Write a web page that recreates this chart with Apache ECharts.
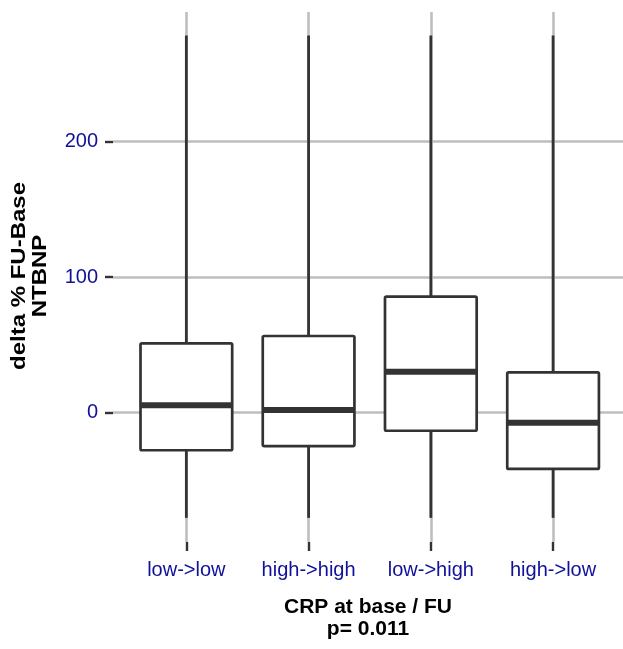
<!DOCTYPE html>
<html><head><meta charset="utf-8">
<script src="https://cdn.jsdelivr.net/npm/echarts@6/dist/echarts.min.js"></script>
<style>html,body{margin:0;padding:0;background:#fff}#c{width:623px;height:649px}</style>
</head><body><div id="c"></div>
<script>
const categories = ['low->low', 'high->high', 'low->high', 'high->low'];
const whiskerLow = [-77.6, -77.6, -77.6, -77.6];
const q1 = [-27.7, -24.6, -13.3, -41.5];
const median = [5.5, 2.0, 30.3, -7.4];
const q3 = [51.2, 56.6, 85.6, 29.8];
const whiskerHigh = [278.3, 278.3, 278.3, 278.3];
const yTicks = [0, 100, 200];
const xTicks = [0, 1, 2, 3];
const yTitle = 'delta % FU-Base\nNTBNP';
const xTitle = 'CRP at base / FU\np= 0.011';

const boxData = categories.map((c, i) => [i, whiskerLow[i], q1[i], median[i], q3[i], whiskerHigh[i]]);

const FONT = 'Liberation Sans, Arial, Helvetica, sans-serif';
const LABEL_COLOR = '#10109a';
const DARK = '#333333';
const GRID = '#bebebe';

function renderItem(params, api) {
  const x = api.value(0);
  const half = api.size([0.75, 0])[0] / 2;
  const pMin = api.coord([x, api.value(1)]);
  const pQ1 = api.coord([x, api.value(2)]);
  const pMed = api.coord([x, api.value(3)]);
  const pQ3 = api.coord([x, api.value(4)]);
  const pMax = api.coord([x, api.value(5)]);
  const st = { stroke: DARK, lineWidth: 2.8, lineCap: 'butt' };
  return {
    type: 'group',
    children: [
      { type: 'line', shape: { x1: pQ3[0], y1: pQ3[1], x2: pMax[0], y2: pMax[1] }, style: st },
      { type: 'line', shape: { x1: pMin[0], y1: pMin[1], x2: pQ1[0], y2: pQ1[1] }, style: st },
      { type: 'rect', shape: { x: pQ3[0] - half, y: pQ3[1], width: 2 * half, height: pQ1[1] - pQ3[1], r: 1.5 },
        style: { fill: '#ffffff', stroke: DARK, lineWidth: 2.7, lineJoin: 'round' } },
      { type: 'line', shape: { x1: pMed[0] - half, y1: pMed[1], x2: pMed[0] + half, y2: pMed[1] },
        style: { stroke: DARK, lineWidth: 6, lineCap: 'butt' } }
    ]
  };
}

const chart = echarts.init(document.getElementById('c'), null, { renderer: 'canvas' });
chart.setOption({
  animation: false,
  backgroundColor: '#ffffff',
  grid: { left: 113, right: 0, top: 12, bottom: 107, containLabel: false, outerBoundsMode: 'none' },
  graphic: [{
    type: 'text', x: 30, y: 276, rotation: Math.PI / 2, scaleX: 1.2, silent: true,
    style: { text: yTitle, font: 'bold 20px ' + FONT, fill: '#000',
      textAlign: 'center', align: 'center', textVerticalAlign: 'middle', verticalAlign: 'middle', lineHeight: 21 }
  }],
  xAxis: {
    type: 'value', min: -0.6, max: 3.572,
    axisLine: { show: false, onZero: false },
    axisTick: { show: true, length: 9, customValues: xTicks, lineStyle: { color: DARK, width: 2.4 } },
    axisLabel: { customValues: xTicks, formatter: v => categories[Math.round(v)], margin: 18,
      color: LABEL_COLOR, fontSize: 20, fontFamily: FONT },
    splitLine: { show: true, lineStyle: { color: GRID, width: 2.6 } },
    name: xTitle, nameLocation: 'middle', nameGap: 54,
    nameTextStyle: { fontSize: 21, fontWeight: 'bold', color: '#000', fontFamily: FONT, lineHeight: 22 }
  },
  yAxis: {
    type: 'value', min: -95.4, max: 295.7,
    axisLine: { show: false, onZero: false },
    axisTick: { show: true, length: 8, customValues: yTicks, lineStyle: { color: DARK, width: 2.4 } },
    axisLabel: { customValues: yTicks, margin: 15, color: LABEL_COLOR, fontSize: 20, fontFamily: FONT },
    splitLine: { show: true, lineStyle: { color: GRID, width: 2.6 } }
  },
  series: [{
    type: 'custom',
    renderItem: renderItem,
    encode: { x: 0, y: [1, 2, 3, 4, 5] },
    data: boxData,
    clip: false
  }]
});
</script>
</body></html>
